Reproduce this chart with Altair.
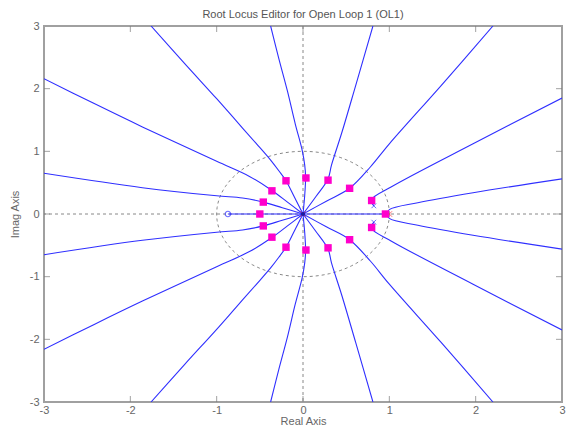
import altair as alt
import numpy as np
import pandas as pd

# ---------------- data ----------------
# upper-half branches (x, y)
A_x = [0.0, 0.02, 0.03, 0.02, -0.01, -0.09, -0.18, -0.28, -0.375]
A_y = [0.0, 0.30, 0.59, 0.78, 1.02, 1.44, 1.96, 2.48, 3.0]
B_x = [0.0, 0.15, 0.29, 0.33, 0.45, 0.61, 0.81]
B_y = [0.0, 0.28, 0.56, 0.78, 1.30, 2.05, 3.0]
C_x = [0.0, -0.10, -0.197, -0.28, -0.375, -0.545, -0.773, -1.0, -1.37, -1.76]
C_y = [0.0, 0.27, 0.53, 0.69, 0.86, 1.13, 1.485, 1.84, 2.40, 3.0]
D_x = [0.0, -0.18, -0.364, -0.62, -1.0, -1.86, -2.43, -3.0]
D_y = [0.0, 0.19, 0.38, 0.60, 0.84, 1.39, 1.77, 2.16]
E_x = [0.0, -0.24, -0.46, -0.70, -1.0, -1.86, -3.0]
E_y = [0.0, 0.10, 0.19, 0.255, 0.29, 0.42, 0.65]
F_x = [0.0, 0.27, 0.54, 0.78, 1.0, 1.6, 2.2]
F_y = [0.0, 0.205, 0.41, 0.75, 1.12, 2.05, 3.0]
G_x = [0.82, 0.795, 1.02, 1.97, 3.0]
G_y = [0.13, 0.23, 0.43, 1.12, 1.85]
H_x = [0.97, 1.0, 1.33, 1.97, 3.0]
H_y = [0.0, 0.07, 0.18, 0.34, 0.56]
# lower-half branches
a_x = [0.0, 0.02, 0.03, 0.02, -0.01, -0.09, -0.18, -0.28, -0.375]
a_y = [0.0, -0.30, -0.59, -0.78, -1.02, -1.44, -1.96, -2.48, -3.0]
b_x = [0.0, 0.15, 0.29, 0.33, 0.45, 0.61, 0.81]
b_y = [0.0, -0.28, -0.56, -0.78, -1.30, -2.05, -3.0]
c_x = [0.0, -0.10, -0.197, -0.28, -0.375, -0.545, -0.773, -1.0, -1.37, -1.76]
c_y = [0.0, -0.27, -0.53, -0.69, -0.86, -1.13, -1.485, -1.84, -2.40, -3.0]
d_x = [0.0, -0.18, -0.364, -0.62, -1.0, -1.86, -2.43, -3.0]
d_y = [0.0, -0.19, -0.38, -0.60, -0.84, -1.39, -1.77, -2.16]
e_x = [0.0, -0.24, -0.46, -0.70, -1.0, -1.86, -3.0]
e_y = [0.0, -0.10, -0.19, -0.255, -0.29, -0.42, -0.65]
f_x = [0.0, 0.27, 0.54, 0.78, 1.0, 1.6, 2.2]
f_y = [0.0, -0.205, -0.41, -0.75, -1.12, -2.05, -3.0]
g_x = [0.82, 0.795, 1.02, 1.97, 3.0]
g_y = [-0.13, -0.23, -0.43, -1.12, -1.85]
h_x = [0.97, 1.0, 1.33, 1.97, 3.0]
h_y = [0.0, -0.07, -0.18, -0.34, -0.56]
# real-axis segment
R_x = [-0.87, 1.0]
R_y = [0.0, 0.0]

# closed-loop poles (magenta squares)
sq_x = [-0.197, 0.034, 0.29, 0.54, 0.795, -0.36, -0.46, -0.50, 0.955,
        -0.197, 0.034, 0.29, 0.54, 0.795, -0.36, -0.46]
sq_y = [0.53, 0.575, 0.54, 0.41, 0.215, 0.37, 0.19, 0.0, 0.0,
        -0.53, -0.575, -0.54, -0.41, -0.215, -0.37, -0.19]
# open-loop poles / zeros
pole_blue_x = [0.82, 0.82]
pole_blue_y = [0.13, -0.13]
pole_red_x = [1.0, 0.0]
pole_red_y = [0.0, 0.0]
zero_x = [-0.87]
zero_y = [0.0]

tick_vals = [-3, -2, -1, 0, 1, 2, 3]
inner_ticks = [-2, -1, 0, 1, 2]

# ---------------- tables ----------------
branches = {
    "A": (A_x, A_y), "B": (B_x, B_y), "C": (C_x, C_y), "D": (D_x, D_y),
    "E": (E_x, E_y), "F": (F_x, F_y), "G": (G_x, G_y), "H": (H_x, H_y),
    "a": (a_x, a_y), "b": (b_x, b_y), "c": (c_x, c_y), "d": (d_x, d_y),
    "e": (e_x, e_y), "f": (f_x, f_y), "g": (g_x, g_y), "h": (h_x, h_y),
}
rows = []
for name, (xs_, ys_) in branches.items():
    for i, (xv, yv) in enumerate(zip(xs_, ys_)):
        rows.append({"branch": name, "i": i, "x": xv, "y": yv})
lines_df = pd.DataFrame(rows)
real_df = pd.DataFrame({"x": R_x, "y": R_y})

theta = np.linspace(0, 2 * np.pi, 181)
circle_df = pd.DataFrame({"i": np.arange(len(theta)), "x": np.cos(theta), "y": np.sin(theta)})

sq_df = pd.DataFrame({"x": sq_x, "y": sq_y})
pb_df = pd.DataFrame({"x": pole_blue_x, "y": pole_blue_y})
pr_df = pd.DataFrame({"x": pole_red_x, "y": pole_red_y})
z_df = pd.DataFrame({"x": zero_x, "y": zero_y})

FONT = "Liberation Sans"
GRAY = "#666666"
BLUE = "#2f2fff"

xs = alt.Scale(domain=[-3, 3], nice=False, zero=False)
ys = alt.Scale(domain=[-3, 3], nice=False, zero=False)

x_axis = alt.Axis(values=tick_vals, labelExpr="datum.value + ''", grid=False, ticks=False,
                  domain=False, tickSize=0, labelFlush=False, labelPadding=2,
                  labelColor=GRAY, labelFont=FONT, labelFontSize=11, title="Real Axis",
                  titleFont=FONT, titleFontSize=11, titleFontWeight="normal",
                  titleColor=GRAY, titlePadding=0)
y_axis = alt.Axis(values=tick_vals, labelExpr="datum.value + ''", grid=False, ticks=False,
                  domain=False, tickSize=0, labelFlush=False, labelPadding=5,
                  labelColor=GRAY, labelFont=FONT, labelFontSize=11, title="Imag Axis",
                  titleFont=FONT, titleFontSize=11, titleFontWeight="normal",
                  titleColor=GRAY, titlePadding=9)

X = alt.X("x:Q", scale=xs, axis=x_axis)
Y = alt.Y("y:Q", scale=ys, axis=y_axis)

base_x = alt.X("x:Q", scale=xs)
base_y = alt.Y("y:Q", scale=ys)

zero_v = alt.Chart(pd.DataFrame({"x": [0]})).mark_rule(
    color="#888888", strokeDash=[3, 3], strokeWidth=1).encode(x=X)
zero_h = alt.Chart(pd.DataFrame({"y": [0]})).mark_rule(
    color="#888888", strokeDash=[3, 3], strokeWidth=1).encode(y=Y)

circle = alt.Chart(circle_df).mark_line(
    color="#888888", strokeDash=[3, 3], strokeWidth=1).encode(x=base_x, y=base_y, order="i:Q")

locus = alt.Chart(lines_df).mark_line(color=BLUE, strokeWidth=1.1, clip=True,
                                      interpolate="catmull-rom").encode(
    x=base_x, y=base_y, detail="branch:N", order="i:Q")
real_seg = alt.Chart(real_df).mark_line(color=BLUE, strokeWidth=1.2).encode(x=base_x, y=base_y)

# inward tick marks, kept inside the frame
tick_df = pd.DataFrame({"v": inner_ticks, "lo": [-3] * 5, "hi": [3] * 5})
tick_color = "#7a7a7a"
t_bottom = alt.Chart(tick_df).mark_tick(orient="vertical", size=6, thickness=1,
                                        color=tick_color, yOffset=-3).encode(
    x=alt.X("v:Q", scale=xs), y=alt.Y("lo:Q", scale=ys))
t_top = alt.Chart(tick_df).mark_tick(orient="vertical", size=6, thickness=1,
                                     color=tick_color, yOffset=3).encode(
    x=alt.X("v:Q", scale=xs), y=alt.Y("hi:Q", scale=ys))
t_left = alt.Chart(tick_df).mark_tick(orient="horizontal", size=6, thickness=1,
                                      color=tick_color, xOffset=3).encode(
    y=alt.Y("v:Q", scale=ys), x=alt.X("lo:Q", scale=xs))
t_right = alt.Chart(tick_df).mark_tick(orient="horizontal", size=6, thickness=1,
                                       color=tick_color, xOffset=-3).encode(
    y=alt.Y("v:Q", scale=ys), x=alt.X("hi:Q", scale=xs))

XSHAPE = "M-1,-1L1,1M-1,1L1,-1"
poles_blue = alt.Chart(pb_df).mark_point(shape=XSHAPE, size=22, color=BLUE,
                                         strokeWidth=1, filled=False).encode(x=base_x, y=base_y)
poles_red = alt.Chart(pr_df).mark_point(shape=XSHAPE, size=30, color="#ff3030",
                                        strokeWidth=1, filled=False).encode(x=base_x, y=base_y)
zeros = alt.Chart(z_df).mark_point(shape="circle", size=30, color=BLUE,
                                   strokeWidth=1.2, filled=False).encode(x=base_x, y=base_y)
squares = alt.Chart(sq_df).mark_square(size=55, color="#ff00cc", opacity=1).encode(
    x=base_x, y=base_y)
center_dot = alt.Chart(pd.DataFrame({"x": [0.0], "y": [0.0]})).mark_point(
    shape="circle", size=18, color="#1a1aa0", filled=True, opacity=1).encode(x=base_x, y=base_y)

chart = alt.layer(
    zero_v, zero_h, circle, locus, real_seg, t_bottom, t_top, t_left, t_right,
    poles_blue, zeros, poles_red, squares, center_dot
).properties(
    width=518, height=376,
    title=alt.TitleParams("Root Locus Editor for Open Loop 1 (OL1)", font=FONT, fontSize=11,
                          fontWeight="normal", color="#555555", offset=0, frame="group"),
    autosize=alt.AutoSizeParams(type="none"),
    padding={"left": 36, "top": 18, "right": 4, "bottom": 27},
).configure_view(stroke="#a0a0a0", strokeWidth=2)

chart.save("out.html", embed_options={"renderer": "svg", "actions": False})
